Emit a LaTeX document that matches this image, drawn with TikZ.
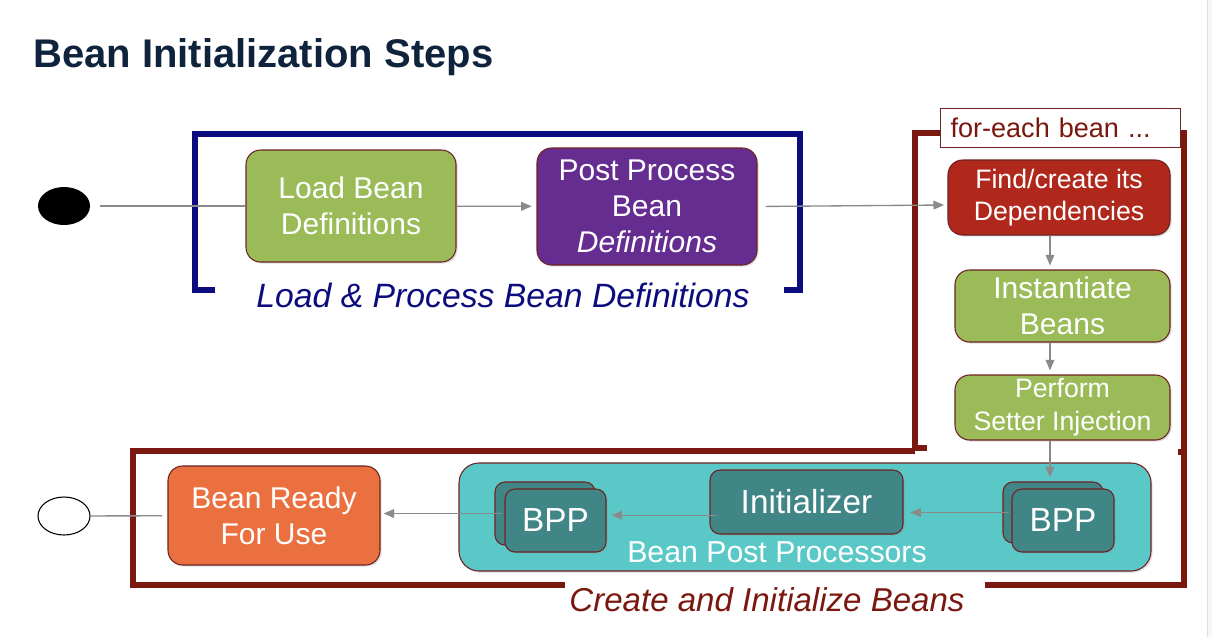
\documentclass[tikz,border=0pt]{standalone}
\usepackage{fontspec}
\setmainfont{Liberation Sans}
\usetikzlibrary{arrows.meta,shadows,shapes.geometric}
\definecolor{navyline}{HTML}{0C0C7E}
\definecolor{wine}{HTML}{7A170E}
\definecolor{titleblue}{HTML}{10233C}
\definecolor{leaf}{HTML}{9BBB59}
\definecolor{plum}{HTML}{662D91}
\definecolor{brick}{HTML}{B0281C}
\definecolor{tangerine}{HTML}{EB7040}
\definecolor{aqua}{HTML}{5BC8C8}
\definecolor{deepteal}{HTML}{418687}
\definecolor{edge}{HTML}{6E2222}
\definecolor{flowgray}{HTML}{8A8A8A}
\begin{document}
\begin{tikzpicture}[x=0.75pt,y=-0.75pt,
    stepbox/.style={draw=edge,line width=0.8pt,rounded corners=11pt,inner sep=0pt,
      text=white,align=center,font=\fontsize{22.5}{27}\selectfont,
      drop shadow={opacity=0.25,shadow xshift=1.2pt,shadow yshift=-1.2pt}},
    bppbox/.style={stepbox,fill=deepteal,rounded corners=7.5pt,font=\fontsize{25}{29}\selectfont},
    bracket/.style={line width=4.5pt,line join=miter},
    flow/.style={draw=flowgray,line width=1pt,-{Triangle[length=8pt,width=6.5pt]}},
    plain/.style={draw=flowgray,line width=1pt}]
  \useasboundingbox (0,0) rectangle (1212,637);
  \fill[white] (0,0) rectangle (1212,637);
  \fill[black!3] (1207,0) rectangle (1212,637);
  \draw[black!12,line width=0.6pt] (1207,0) -- (1207,637);

  \node[anchor=base west,inner sep=0pt,text=titleblue,font=\fontsize{30}{36}\selectfont\bfseries]
    (title) at (33,67) {Bean Initialization Steps};

  \draw[bracket,navyline] (215,290) -- (195,290) -- (195,134) -- (800,134) -- (800,290) -- (784,290);
  \draw[bracket,wine] (927,448) -- (915,448) -- (915,133) -- (1184,133) -- (1184,585) -- (985,585);
  \draw[bracket,wine] (915,451) -- (133,451) -- (133,585) -- (565,585);
  \draw[bracket,wine] (1178,452) -- (1184,452);

  \node[text=navyline,font=\fontsize{25.3}{30}\selectfont\itshape] (lpbd) at (503,295)
    {Load \& Process Bean Definitions};
  \node[text=wine,font=\fontsize{24.8}{30}\selectfont\itshape] (cibs) at (767,600)
    {Create and Initialize Beans};
  \node[draw=edge,line width=0.8pt,fill=white,anchor=west,text=wine,inner xsep=7.5pt,
    text width=165pt,align=left,minimum height=29.25pt,font=\fontsize{20.3}{24}\selectfont]
    (foreach) at (940,128) {for-each bean ...};

  \node[ellipse,fill=black,minimum width=39pt,minimum height=28.5pt,inner sep=0pt] (start) at (64,206) {};
  \node[ellipse,draw=black,line width=0.8pt,minimum width=39pt,minimum height=28.5pt,inner sep=0pt] (stop) at (64,516) {};

  \node[stepbox,fill=leaf,minimum width=157.5pt,minimum height=84pt] (load) at (351,206) {Load Bean\\Definitions};
  \node[stepbox,fill=plum,minimum width=165pt,minimum height=87.75pt] (post) at (647,206.5) {Post Process\\Bean\\\textit{Definitions}};
  \node[stepbox,fill=brick,font=\fontsize{20}{24}\selectfont,minimum width=166.5pt,minimum height=56.25pt] (find) at (1059,197.5) {Find/create its\\Dependencies};
  \node[stepbox,fill=leaf,minimum width=161.25pt,minimum height=54pt] (inst) at (1062.5,306) {Instantiate\\Beans};
  \node[stepbox,fill=leaf,font=\fontsize{20}{24.75}\selectfont,minimum width=161.25pt,minimum height=48.75pt] (setter) at (1062.5,407.5) {Perform\\Setter Injection};
  \node[stepbox,fill=tangerine,minimum width=159pt,minimum height=74.25pt] (ready) at (274,515.5) {Bean Ready\\For Use};

  \node[stepbox,fill=aqua,rounded corners=15pt,minimum width=519pt,minimum height=81pt] (bpp) at (805,517) {};
  \node[text=white,font=\fontsize{22.7}{27}\selectfont] (bpplabel) at (777,552) {Bean Post Processors};
  \node[bppbox,minimum width=144.75pt,minimum height=48pt] (init) at (806.5,502) {Initializer};
  \node[bppbox,minimum width=75pt,minimum height=45.75pt] (bpprb) at (1053,512.5) {};
  \node[bppbox,minimum width=76.5pt,minimum height=47.25pt] (bppr) at (1063,520.5) {BPP};
  \node[bppbox,minimum width=75pt,minimum height=47.25pt] (bpplb) at (545,513.5) {};
  \node[bppbox,minimum width=75.75pt,minimum height=47.25pt] (bppl) at (555.5,520.5) {BPP};

  \begin{scope}[flow]
    \draw[plain,-,shorten <=7.5pt] (start) to (load);
    \draw[shorten >=3.5pt] (load) to (post);
    \draw[shorten <=6pt,shorten >=2.5pt] (post.east) to ([yshift=-5.6pt]find.west);
    \draw[shorten >=3pt] ([xshift=-6.75pt]find.south) to ([xshift=-6.75pt]find.south |- inst.north);
    \draw[shorten >=3pt] ([xshift=-9.4pt]inst.south) to ([xshift=-9.4pt]inst.south |- setter.north);
    \draw[shorten >=3pt] ([xshift=-9.4pt]setter.south) to ([xshift=-9.4pt]setter.south |- bpprb.north);
    \draw[shorten <=-5pt,shorten >=5pt] (bpprb.west) to (bpprb.west -| init.east);
    \draw[shorten <=-6pt,shorten >=3.75pt] ([yshift=4pt]bppl.east -| init.west) to ([yshift=4pt]bppl.east);
    \draw[shorten <=-6pt,shorten >=2.25pt] (bpplb.west) to (bpplb.west -| ready.east);
    \draw[plain,-,shorten <=4pt] (ready) to (stop);
  \end{scope}
\end{tikzpicture}
\end{document}
